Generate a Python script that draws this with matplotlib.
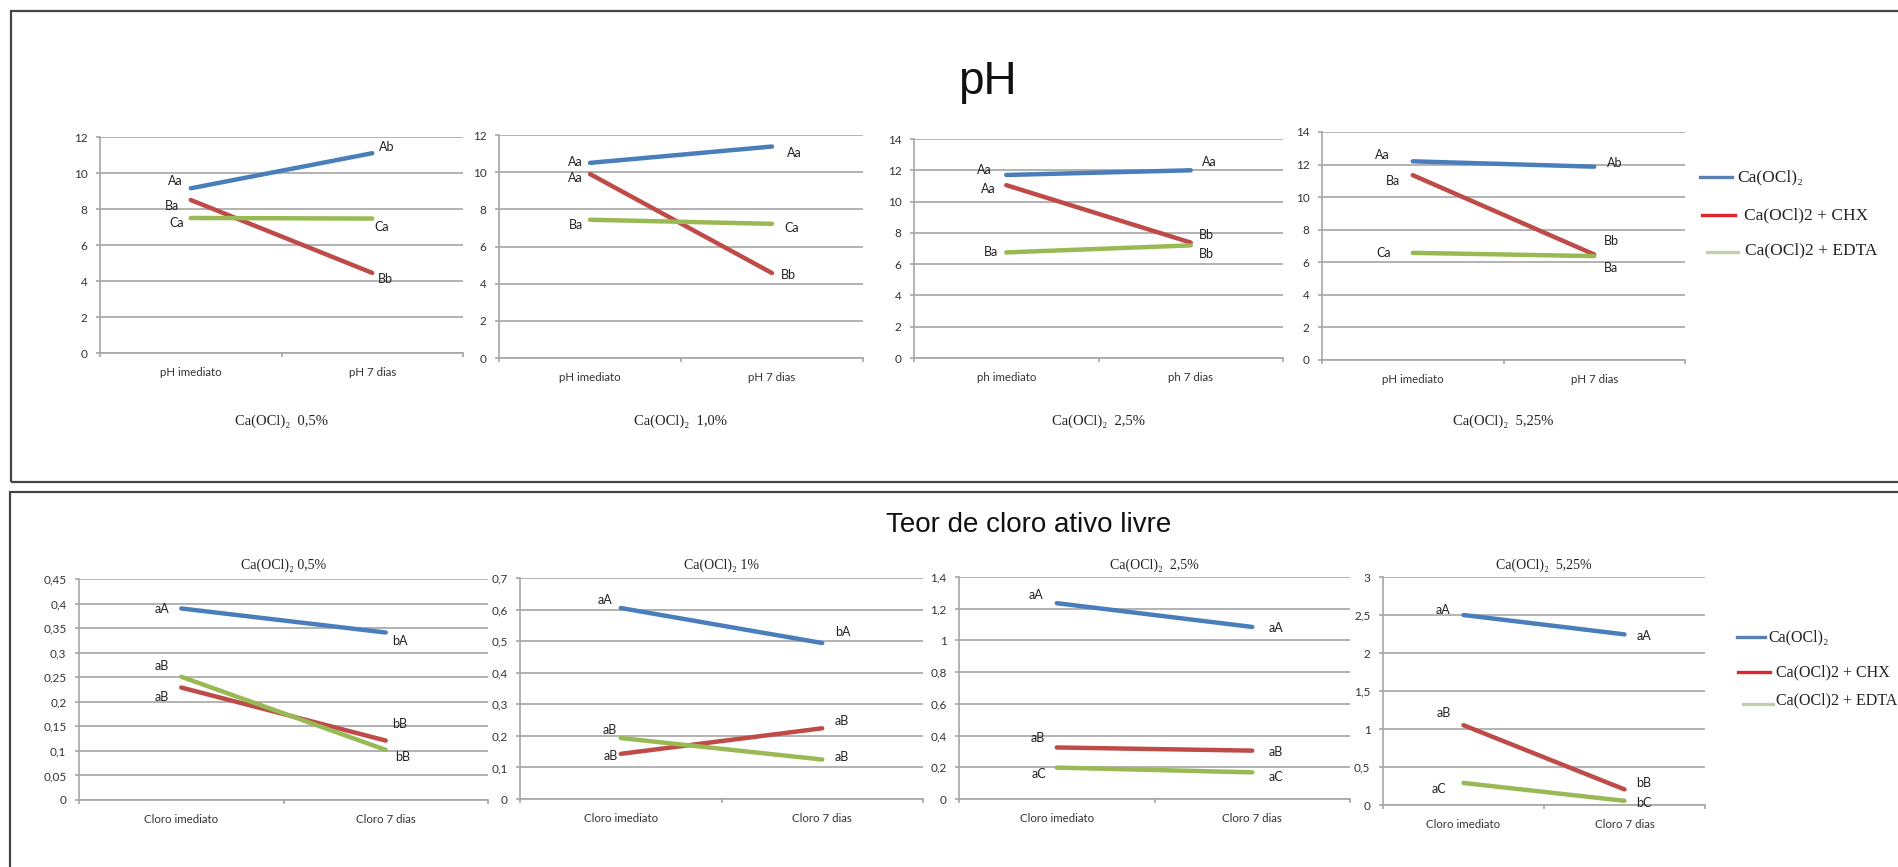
import matplotlib.pyplot as plt
from matplotlib.lines import Line2D
from matplotlib.patches import Rectangle
from matplotlib.ticker import FuncFormatter, FixedLocator, MultipleLocator

plt.rcParams['font.family'] = ['Lato', 'DejaVu Sans']
SERIF = ['Liberation Serif', 'DejaVu Serif']

W, H = 1898, 867

# ---- data ----
series_names = ['Ca(OCl)₂', 'Ca(OCl)2 + CHX', 'Ca(OCl)2 + EDTA']
line_colors = ['#4a7ebb', '#be4b48', '#98b954']
legend_colors = ['#5a80b4', '#e0262c', '#c3cfa6']

ph_cats = [['pH imediato', 'pH 7 dias'], ['pH imediato', 'pH 7 dias'],
           ['ph imediato', 'ph 7 dias'], ['pH imediato', 'pH 7 dias']]
ph_titles = ['Ca(OCl)₂  0,5%', 'Ca(OCl)₂  1,0%', 'Ca(OCl)₂  2,5%', 'Ca(OCl)₂  5,25%']
ph_ymax = [12, 12, 14, 14]
ph_ca = [[9.15, 11.1], [10.5, 11.38], [11.7, 12.0], [12.2, 11.87]]
ph_chx = [[8.5, 4.45], [9.9, 4.57], [11.05, 7.38], [11.35, 6.48]]
ph_edta = [[7.5, 7.47], [7.44, 7.22], [6.75, 7.2], [6.58, 6.38]]
ph_let_ca = [['Aa', 'Ab'], ['Aa', 'Aa'], ['Aa', 'Aa'], ['Aa', 'Ab']]
ph_let_chx = [['Ba', 'Bb'], ['Aa', 'Bb'], ['Aa', 'Bb'], ['Ba', 'Bb']]
ph_let_edta = [['Ca', 'Ca'], ['Ba', 'Ca'], ['Ba', 'Bb'], ['Ca', 'Ba']]

cl_cats = ['Cloro imediato', 'Cloro 7 dias']
cl_titles = ['Ca(OCl)₂ 0,5%', 'Ca(OCl)₂ 1%', 'Ca(OCl)₂  2,5%', 'Ca(OCl)₂  5,25%']
cl_ymax = [0.45, 0.7, 1.4, 3]
cl_step = [0.05, 0.1, 0.2, 0.5]
cl_ca = [[0.39, 0.341], [0.605, 0.494], [1.235, 1.085], [2.5, 2.245]]
cl_chx = [[0.229, 0.121], [0.143, 0.224], [0.325, 0.305], [1.05, 0.205]]
cl_edta = [[0.251, 0.102], [0.193, 0.125], [0.198, 0.168], [0.29, 0.055]]
cl_let_ca = [['aA', 'bA'], ['aA', 'bA'], ['aA', 'aA'], ['aA', 'aA']]
cl_let_chx = [['aB', 'bB'], ['aB', 'aB'], ['aB', 'aB'], ['aB', 'bB']]
cl_let_edta = [['aB', 'bB'], ['aB', 'aB'], ['aC', 'aC'], ['aC', 'bC']]

# ---- layout (pixels: x0, x1, ytop, ybottom) ----
ph_boxes = [(100, 463, 137, 353), (499, 863, 135, 358),
            (914, 1283, 139, 358), (1322, 1685, 132, 360)]
cl_boxes = [(79, 488, 579, 800), (520, 923, 578, 799),
            (959, 1350, 577, 799), (1383, 1705, 577, 805)]

# label offsets in pixels (dx, dy downward) per series: [left, right]
ph_offs = [
    [[(-8, -7), (7, -6)], [(-12, 6), (6, 6)], [(-7, 5), (2, 8)]],
    [[(-7, -1), (15, 6)], [(-7, 4), (9, 2)], [(-7, 5), (12, 4)]],
    [[(-15, -5), (11, -8)], [(-11, 4), (8, -8)], [(-8, 0), (8, 9)]],
    [[(-23, -6), (13, -4)], [(-13, 6), (10, -13)], [(-22, 0), (10, 12)]],
]
cl_offs = [
    [[(-12, 1), (6, 8)], [(-12, 9), (6, -17)], [(-12, -11), (9, 7)]],
    [[(-8, -8), (13, -11)], [(-3, 2), (12, -7)], [(-4, -8), (12, -3)]],
    [[(-13, -8), (16, 1)], [(-12, -9), (16, 1)], [(-11, 6), (16, 5)]],
    [[(-13, -5), (12, 2)], [(-13, -12), (12, -6)], [(-17, 6), (12, 2)]],
]

fig = plt.figure(figsize=(W / 100, H / 100), dpi=100)


def fx(x):
    return x / W


def fy(y):
    return 1 - y / H


def comma(v, pos):
    return ('%g' % round(v, 4)).replace('.', ',')


def make_axes(box, ymax, step, cats):
    x0, x1, yt, yb = box
    ax = fig.add_axes([fx(x0), fy(yb), (x1 - x0) / W, (yb - yt) / H])
    ax.set_xlim(-0.5, 1.5)
    ax.set_ylim(0, ymax)
    ax.yaxis.set_major_locator(MultipleLocator(step))
    ax.yaxis.set_major_formatter(FuncFormatter(comma))
    ax.grid(axis='y', color='#a6a6a6', lw=1.2)
    ax.set_axisbelow(True)
    for s in ['top', 'right']:
        ax.spines[s].set_visible(False)
    for s in ['left', 'bottom']:
        ax.spines[s].set_color('#a6a6a6')
        ax.spines[s].set_linewidth(1.2)
    ax.set_xticks([0, 1])
    ax.set_xticklabels(cats)
    ax.xaxis.set_minor_locator(FixedLocator([-0.5, 0.5, 1.5]))
    ax.tick_params(axis='x', which='major', length=0, pad=10, labelsize=8.3, labelcolor='#333333')
    ax.tick_params(axis='x', which='minor', length=3, color='#a6a6a6', width=1.2)
    ax.tick_params(axis='y', length=3, color='#a6a6a6', width=1.2, pad=6,
                   labelsize=8.5, labelcolor='#333333')
    return ax


def draw_series(ax, vals, letters, offs):
    for k in range(3):
        ax.plot([0, 1], vals[k], color=line_colors[k], lw=3.2,
                solid_capstyle='round', zorder=3)
        for side in range(2):
            dx, dy = offs[k][side]
            ax.annotate(letters[k][side], (side, vals[k][side]),
                        xytext=(dx, -dy), textcoords='offset pixels',
                        ha='right' if side == 0 else 'left', va='center',
                        fontsize=9, color='#222222')


for i in range(4):
    ax = make_axes(ph_boxes[i], ph_ymax[i], 2, ph_cats[i])
    draw_series(ax, [ph_ca[i], ph_chx[i], ph_edta[i]],
                [ph_let_ca[i], ph_let_chx[i], ph_let_edta[i]], ph_offs[i])
    x0, x1, yt, yb = ph_boxes[i]
    fig.text(fx((x0 + x1) / 2), fy(421), ph_titles[i], family=SERIF,
             fontsize=10.5, ha='center', va='center', color='#222222')

for i in range(4):
    ax = make_axes(cl_boxes[i], cl_ymax[i], cl_step[i], cl_cats)
    draw_series(ax, [cl_ca[i], cl_chx[i], cl_edta[i]],
                [cl_let_ca[i], cl_let_chx[i], cl_let_edta[i]], cl_offs[i])
    x0, x1, yt, yb = cl_boxes[i]
    fig.text(fx((x0 + x1) / 2), fy(565), cl_titles[i], family=SERIF,
             fontsize=10, ha='center', va='center', color='#222222')

# titles
fig.text(fx(987), fy(82), 'pH', fontsize=33, family=['Liberation Sans', 'DejaVu Sans'],
         ha='center', va='center', color='#111111')
fig.text(fx(1029), fy(525), 'Teor de cloro ativo livre', fontsize=20,
         family=['Liberation Sans', 'DejaVu Sans'], ha='center', va='center', color='#111111')

# legends (line x0, x1, line y, text x, text y, font size)
top_leg = [(1700, 1732, 177, 1737, 177), (1702, 1735, 215, 1744, 215),
           (1707, 1738, 252, 1745, 250)]
bot_leg = [(1737, 1765, 637, 1768, 637), (1738, 1770, 672, 1776, 672),
           (1743, 1773, 704, 1776, 700)]
for leg, fs in [(top_leg, 12.5), (bot_leg, 11.5)]:
    for k in range(3):
        lx0, lx1, ly, tx, ty = leg[k]
        fig.add_artist(Line2D([fx(lx0), fx(lx1)], [fy(ly), fy(ly)],
                              transform=fig.transFigure, color=legend_colors[k], lw=2.4))
        fig.text(fx(tx), fy(ty), series_names[k], family=SERIF, fontsize=fs,
                 ha='left', va='center', color='#222222')

# panel frames
fig.add_artist(Rectangle((fx(11), fy(482)), fx(1905 - 11), (482 - 11) / H,
                         transform=fig.transFigure, fill=False, ec='#444444', lw=1.6))
fig.add_artist(Rectangle((fx(10), fy(880)), fx(1905 - 10), (880 - 492) / H,
                         transform=fig.transFigure, fill=False, ec='#444444', lw=1.6))

fig.savefig('out.png', dpi=100, facecolor='white')
